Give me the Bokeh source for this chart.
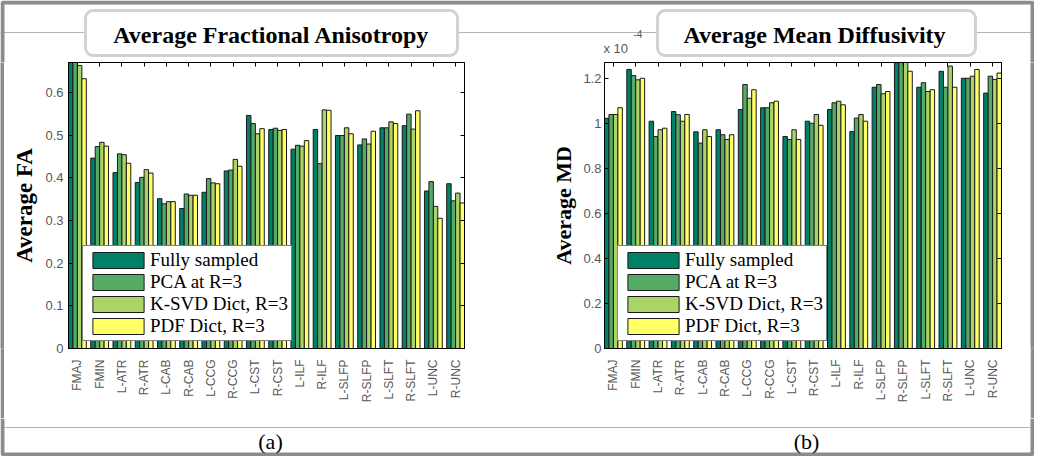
import numpy as np
from bokeh.plotting import figure
from bokeh.models import (ColumnDataSource, Range1d, LinearAxis, FixedTicker,
                          PrintfTickFormatter, Legend, LegendItem)
from bokeh.transform import dodge
from bokeh.layouts import column, row
from bokeh.embed import file_html
from bokeh.resources import INLINE
from bokeh.core.properties import value

# ---------------- data ----------------
tracts = ["FMAJ", "FMIN", "L-ATR", "R-ATR", "L-CAB", "R-CAB", "L-CCG", "R-CCG",
          "L-CST", "R-CST", "L-ILF", "R-ILF", "L-SLFP", "R-SLFP", "L-SLFT",
          "R-SLFT", "L-UNC", "R-UNC"]
series_names = ["Fully sampled", "PCA at R=3", "K-SVD Dict, R=3", "PDF Dict, R=3"]

fa_full = [0.700, 0.446, 0.412, 0.389, 0.351, 0.328, 0.366, 0.416, 0.546,
           0.513, 0.467, 0.513, 0.499, 0.477, 0.517, 0.522, 0.369, 0.386]
fa_pca = [0.690, 0.473, 0.456, 0.401, 0.339, 0.362, 0.398, 0.418, 0.527,
          0.516, 0.476, 0.433, 0.499, 0.491, 0.517, 0.549, 0.391, 0.346]
fa_ksvd = [0.663, 0.483, 0.454, 0.419, 0.344, 0.359, 0.388, 0.443, 0.503,
           0.511, 0.474, 0.559, 0.517, 0.479, 0.531, 0.514, 0.333, 0.364]
fa_pdf = [0.632, 0.474, 0.434, 0.411, 0.344, 0.359, 0.386, 0.427, 0.515,
          0.513, 0.487, 0.558, 0.503, 0.509, 0.527, 0.557, 0.305, 0.341]

# mean diffusivity, in units of 1e-4
md_full = [1.023, 1.240, 1.010, 1.053, 0.963, 0.972, 1.062, 1.070, 0.942,
           1.010, 1.062, 0.964, 1.161, 1.300, 1.161, 1.232, 1.201, 1.135]
md_pca = [1.040, 1.213, 0.942, 1.039, 0.913, 0.950, 1.173, 1.070, 0.929,
          1.001, 1.092, 1.024, 1.173, 1.290, 1.181, 1.161, 1.201, 1.210]
md_ksvd = [1.040, 1.194, 0.972, 1.010, 0.972, 0.929, 1.112, 1.092, 0.972,
           1.040, 1.099, 1.040, 1.132, 1.310, 1.142, 1.255, 1.210, 1.196]
md_pdf = [1.070, 1.201, 0.979, 1.040, 0.942, 0.950, 1.150, 1.099, 0.929,
          0.992, 1.083, 1.010, 1.142, 1.232, 1.150, 1.161, 1.240, 1.224]

fa_ticks = [0, 0.1, 0.2, 0.3, 0.4, 0.5, 0.6]
md_ticks = [0, 0.2, 0.4, 0.6, 0.8, 1.0, 1.2]

colors = ["#008066", "#55aa66", "#aad466", "#ffff66"]

SANS = "Liberation Sans"
SERIF = "Liberation Serif"
BORDER = "#8c8c8c"
GRAYTXT = "#585858"

TOP_H = 62
MID_H = 356
BOT_H = 38
W = 1034


def silent_axis(ticks):
    ax = LinearAxis(ticker=FixedTicker(ticks=ticks))
    ax.major_label_text_font_size = "0px"
    ax.major_label_text_color = None
    ax.major_label_standoff = 0
    ax.major_tick_in = 4
    ax.major_tick_out = 0
    ax.minor_tick_in = 0
    ax.minor_tick_out = 0
    ax.axis_line_color = "black"
    return ax


def panel(width, left, right, series, ymax, yticks, ylabel, ylab_size,
          ylab_standoff, tick_standoff, legend_loc):
    p = figure(width=width, height=MID_H, x_range=Range1d(0.6, 18.4),
               y_range=Range1d(0, ymax), output_backend="svg",
               toolbar_location=None, x_axis_type=None, y_axis_type=None,
               min_border_left=left, min_border_right=right,
               min_border_top=0, min_border_bottom=70)
    p.outline_line_color = "black"
    p.outline_line_width = 1
    p.background_fill_color = "white"
    p.border_fill_color = "white"
    xs = list(range(1, len(tracts) + 1))
    src = ColumnDataSource(dict(x=xs, s0=series[0], s1=series[1],
                                s2=series[2], s3=series[3]))
    offsets = [-0.3, -0.1, 0.1, 0.3]
    rs = []
    for i, (off, c) in enumerate(zip(offsets, colors)):
        r = p.vbar(x=dodge("x", off, range=p.x_range), top=f"s{i}", bottom=0,
                   width=0.2, source=src, fill_color=c, line_color="#1a1a1a",
                   line_width=1)
        rs.append(r)

    xb = LinearAxis(ticker=FixedTicker(ticks=xs),
                    major_label_overrides={i + 1: t for i, t in enumerate(tracts)})
    xb.major_label_orientation = np.pi / 2
    xb.major_tick_in = 0
    xb.major_tick_out = 0
    xb.minor_tick_in = 0
    xb.minor_tick_out = 0
    xb.major_label_standoff = 11
    xb.major_label_text_font = SANS
    xb.major_label_text_font_size = "12px"
    xb.major_label_text_color = GRAYTXT
    xb.axis_line_color = "black"
    p.add_layout(xb, "below")
    p.add_layout(silent_axis(xs), "above")

    yl = LinearAxis(ticker=FixedTicker(ticks=yticks),
                    formatter=PrintfTickFormatter(format="%g"))
    yl.axis_label = ylabel
    yl.axis_label_text_font = SERIF
    yl.axis_label_text_font_style = "bold"
    yl.axis_label_text_font_size = ylab_size
    yl.axis_label_text_color = "black"
    yl.axis_label_standoff = ylab_standoff
    yl.major_label_standoff = tick_standoff
    yl.major_label_text_font = SANS
    yl.major_label_text_font_size = "13px"
    yl.major_label_text_color = GRAYTXT
    yl.major_tick_in = 4
    yl.major_tick_out = 0
    yl.minor_tick_in = 0
    yl.minor_tick_out = 0
    yl.axis_line_color = "black"
    p.add_layout(yl, "left")
    p.add_layout(silent_axis(yticks), "right")

    items = [LegendItem(label=n, renderers=[r]) for n, r in zip(series_names, rs)]
    leg = Legend(items=items, location=legend_loc)
    leg.border_line_color = "black"
    leg.border_line_width = 1
    leg.background_fill_color = "white"
    leg.background_fill_alpha = 1.0
    leg.label_text_font = SERIF
    leg.label_text_font_size = "19px"
    leg.label_text_color = "black"
    leg.glyph_width = 64
    leg.glyph_height = 20
    leg.label_height = 20
    leg.label_standoff = 0
    leg.spacing = 0
    leg.padding = 3
    leg.margin = 0
    p.add_layout(leg)
    return p


def edge(h):
    return figure(width=4, height=h, output_backend="svg", toolbar_location=None,
                  x_axis_type=None, y_axis_type=None, min_border=0,
                  background_fill_color=BORDER, border_fill_color=BORDER,
                  outline_line_color=None)


def rrect(x0, x1, y0, y1, r, n=10):
    xs, ys = [], []
    corners = [(x1 - r, y0 + r, -np.pi / 2, 0.0),
               (x1 - r, y1 - r, 0.0, np.pi / 2),
               (x0 + r, y1 - r, np.pi / 2, np.pi),
               (x0 + r, y0 + r, np.pi, 1.5 * np.pi)]
    for cx, cy, a0, a1 in corners:
        for a in np.linspace(a0, a1, n):
            xs.append(cx + r * np.cos(a))
            ys.append(cy + r * np.sin(a))
    return xs, ys


# ---------------- top strip (titles) ----------------
top = figure(width=W, height=TOP_H, x_range=Range1d(0, W), y_range=Range1d(TOP_H, 0),
             output_backend="svg", toolbar_location=None, x_axis_type=None,
             y_axis_type=None, min_border=0, outline_line_color=None)
top.line([0, W], [32, 32], line_color="#b4b4b4", line_width=1)
top.line([2, 2, W - 2, W - 2], [TOP_H, 2, 2, TOP_H], line_color=BORDER, line_width=4)
for (bx0, bx1) in [(85, 457), (657, 975)]:
    bx, by = rrect(bx0, bx1, 10, 55, 8)
    top.patch(bx, by, fill_color="white", line_color="#d2d2d2", line_width=3)
top.text(x=[271, 814], y=[34, 34],
         text=["Average Fractional Anisotropy", "Average Mean Diffusivity"],
         text_font=value(SERIF), text_font_style="bold", text_font_size="24px",
         text_align="center", text_baseline="middle", text_color="black")
top.text(x=[603], y=[48], text=["x 10"], text_font=value(SANS),
         text_font_size="13px", text_align="left", text_baseline="middle",
         text_color=GRAYTXT)
top.text(x=[633], y=[33], text=["-4"], text_font=value(SANS),
         text_font_size="10px", text_align="left", text_baseline="middle",
         text_color=GRAYTXT)

# ---------------- panels ----------------
pa = panel(532, 64, 72, [fa_full, fa_pca, fa_ksvd, fa_pdf], 0.67, fa_ticks,
           "Average FA", "23px", 5, 5, (14, 7))
pb = panel(494, 68, 29, [md_full, md_pca, md_ksvd, md_pdf], 1.271, md_ticks,
           "Average MD", "22px", 4, 3, (13, 7))

# ---------------- bottom strip ----------------
bot = figure(width=W, height=BOT_H, x_range=Range1d(0, W),
             y_range=Range1d(TOP_H + MID_H + BOT_H, TOP_H + MID_H),
             output_backend="svg", toolbar_location=None, x_axis_type=None,
             y_axis_type=None, min_border=0, outline_line_color=None)
yb = TOP_H + MID_H + BOT_H - 2
bot.line([4, W - 4], [427, 427], line_color="#b4b4b4", line_width=1)
bot.line([2, 2, W - 2, W - 2], [TOP_H + MID_H, yb, yb, TOP_H + MID_H],
         line_color=BORDER, line_width=4)
bot.text(x=[270, 806], y=[441, 441], text=["(a)", "(b)"], text_font=value(SERIF),
         text_font_size="22px", text_align="center", text_baseline="middle",
         text_color="black")

layout = column(top, row(edge(MID_H), pa, pb, edge(MID_H)), bot)

open("out.html", "w").write(file_html(layout, INLINE))
